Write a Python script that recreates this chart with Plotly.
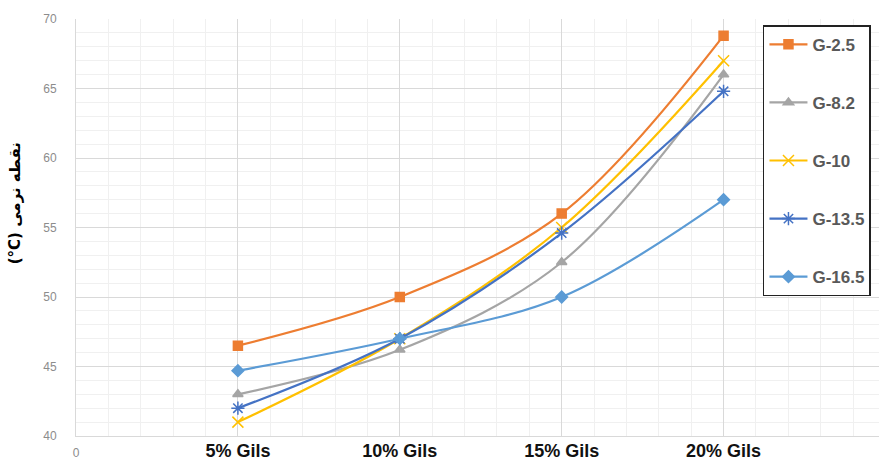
import plotly.graph_objects as go

x_vals = [5, 10, 15, 20]
tick_vals = [0, 5, 10, 15, 20]
tick_labels = ["0", "5% Gils", "10% Gils", "15% Gils", "20% Gils"]

series_names = ["G-2.5", "G-8.2", "G-10", "G-13.5", "G-16.5"]
g25 = [46.5, 50.0, 56.0, 68.8]
g82 = [43.0, 46.2, 52.5, 66.0]
g10 = [41.0, 47.0, 55.0, 67.0]
g135 = [42.0, 47.0, 54.6, 64.8]
g165 = [44.7, 47.0, 50.0, 57.0]

y_title = "(°C) نقطه نرمی"

colors = ["#ED7D31", "#A5A5A5", "#FFC000", "#4472C4", "#5B9BD5"]
symbols = ["square", "triangle-up", "x-thin-open", "asterisk-open", "diamond"]
sizes = [9, 9, 11, 11, 9]
all_series = [g25, g82, g10, g135, g165]

fig = go.Figure()
for i, (name, ys) in enumerate(zip(series_names, all_series)):
    fig.add_trace(go.Scatter(
        x=x_vals, y=ys, name=name, mode="lines+markers",
        line=dict(color=colors[i], width=2.2, shape="spline", smoothing=1),
        marker=dict(symbol=symbols[i], size=sizes[i], color=colors[i],
                    line=dict(color=colors[i], width=1.5)),
        legendgroup=name,
    ))

ticktext = [tick_labels[0]] + [
    '<span style="font-size:18px;color:#111111"><b>%s</b></span>' % t for t in tick_labels[1:]
]

fig.update_layout(
    width=879, height=467,
    margin=dict(l=76, r=0, t=19, b=31, autoexpand=False),
    paper_bgcolor="white", plot_bgcolor="white",
    font=dict(family="Liberation Sans, Arial, sans-serif", color="#595959"),
    showlegend=True,
    legend=dict(
        x=0.8555, xanchor="left", y=0.985, yanchor="top",
        bordercolor="#222222", borderwidth=1.5, bgcolor="white",
        font=dict(size=17, color="#595959", weight="bold"),
        tracegroupgap=33, itemwidth=38,
    ),
    xaxis=dict(
        range=[0, 24.8], tickmode="array", tickvals=tick_vals, ticktext=ticktext,
        tickfont=dict(size=12, color="#8c8c8c"), automargin=False,
        ticklabelstandoff=6,
        showgrid=True, gridcolor="#d9d9d9", gridwidth=1,
        minor=dict(dtick=1, showgrid=True, gridcolor="#f0f0f0", gridwidth=1),
        showline=True, linecolor="#d9d9d9", zeroline=False, ticks="",
    ),
    yaxis=dict(
        range=[40, 70], dtick=5, tickfont=dict(size=12, color="#8c8c8c"),
        automargin=False, ticklabelstandoff=16,
        showgrid=True, gridcolor="#d9d9d9", gridwidth=1,
        minor=dict(dtick=1, showgrid=True, gridcolor="#f0f0f0", gridwidth=1),
        showline=True, linecolor="#d9d9d9", zeroline=False, ticks="",
    ),
    annotations=[dict(
        text="<b>%s</b>" % y_title, textangle=-90,
        xref="paper", yref="paper", x=-0.076, y=0.558,
        xanchor="center", yanchor="middle", showarrow=False,
        font=dict(size=15, color="#000000", family="DejaVu Sans"),
    )],
)

fig.write_html("out.html", config={"displayModeBar": False},
               post_script="document.body.style.margin='0';")
